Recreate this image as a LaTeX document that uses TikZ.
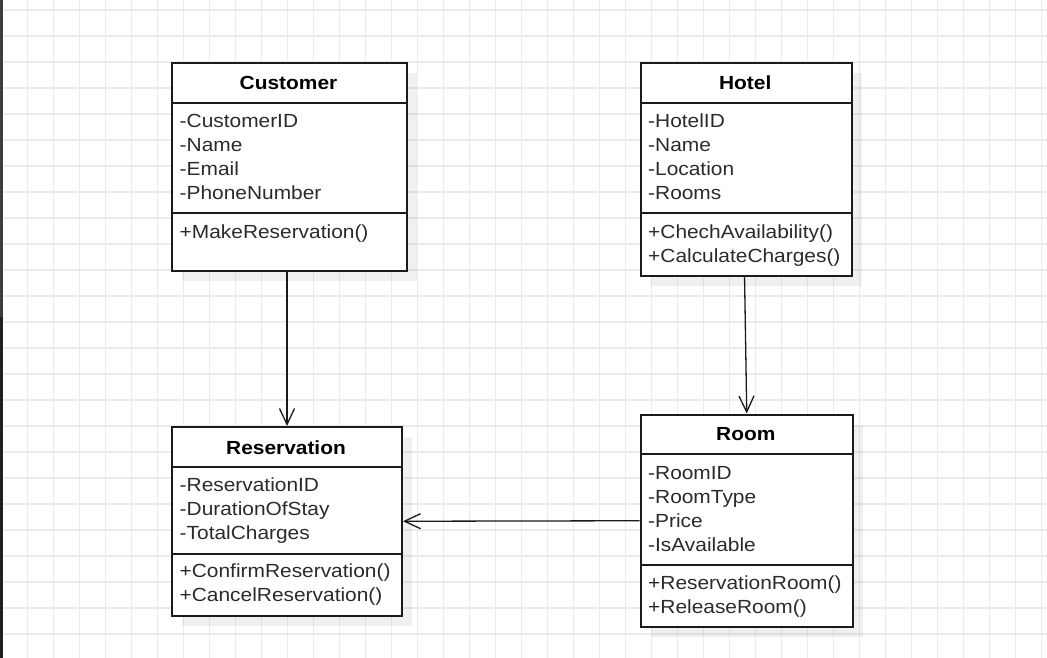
\documentclass[tikz,border=0pt]{standalone}
\usepackage{fontspec}
\setmainfont{Liberation Sans}[FakeStretch=1.1]
\usetikzlibrary{arrows.meta}
\definecolor{gridc}{HTML}{EBEBEB}
\definecolor{inkc}{HTML}{1A1A1A}
\definecolor{textc}{HTML}{2B2B2B}
\definecolor{barTop}{HTML}{3D3D3D}
\definecolor{barBot}{HTML}{1F1F1F}
\begin{document}
\begin{tikzpicture}[x=1pt,y=-1pt,
  gridline/.style={draw=gridc,line width=1.1pt},
  classbox/.style={draw=inkc,line width=2pt,fill=white,anchor=north west,inner sep=0pt},
  boxshadow/.style={fill=black,fill opacity=0.06},
  divider/.style={draw=inkc,line width=2pt},
  title/.style={anchor=base,inner sep=0pt,font=\fontsize{19}{24}\selectfont\bfseries,text=black},
  member/.style={anchor=base west,inner sep=0pt,font=\fontsize{19}{24}\selectfont,text=textc},
  assoc/.style={draw=inkc,line width=1.3pt,-{Straight Barb[length=16pt,width=15pt,line width=1.3pt]}}]
\useasboundingbox (0,0) rectangle (1047,658);
\fill[white] (0,0) rectangle (1047,658);
% background grid
\foreach \k in {0,...,39} \draw[gridline] (27.5+26*\k,0) -- ++(0,658);
\foreach \k in {0,...,24} \draw[gridline] (0,10+26*\k) -- ++(1047,0);
% left edge bar
\fill[barTop] (0,0) rectangle (2.7,317);
\fill[barBot] (0,317) rectangle (2.7,658);

% drop shadows
\fill[boxshadow] (182,73) rectangle (417,281);
\fill[boxshadow] (650.5,73) rectangle (862,286);
\fill[boxshadow] (182,437) rectangle (412,625.5);
\fill[boxshadow] (650.5,424.5) rectangle (863,637);

% Customer
\node[classbox,minimum width=235pt,minimum height=208pt] (cust) at (171,62) {};
\draw[divider] (171,103) -- (406,103);
\draw[divider] (171,213.3) -- (406,213.3);
\node[title] (cust-t) at (288.5,90) {Customer};
\foreach \t [count=\i] in {-CustomerID,-Name,-Email,-PhoneNumber}
  \node[member] (cust-a\i) at (179.5,{127.7+24*(\i-1)}) {\t};
\node[member] (cust-m1) at (179.5,238.3) {+MakeReservation()};

% Hotel
\node[classbox,minimum width=211.5pt,minimum height=213pt] (hotel) at (639.5,62) {};
\draw[divider] (639.5,103) -- (851,103);
\draw[divider] (639.5,213.3) -- (851,213.3);
\node[title] (hotel-t) at (745.2,90) {Hotel};
\foreach \t [count=\i] in {-HotelID,-Name,-Location,-Rooms}
  \node[member] (hotel-a\i) at (648,{127.7+24*(\i-1)}) {\t};
\foreach \t [count=\i] in {+ChechAvailability(),+CalculateCharges()}
  \node[member] (hotel-m\i) at (648,{238.3+24*(\i-1)}) {\t};

% Reservation
\node[classbox,minimum width=230pt,minimum height=188.5pt] (res) at (171,426) {};
\draw[divider] (171,467) -- (401,467);
\draw[divider] (171,553.5) -- (401,553.5);
\node[title] (res-t) at (286,454) {Reservation};
\foreach \t [count=\i] in {-ReservationID,-DurationOfStay,-TotalCharges}
  \node[member] (res-a\i) at (179.5,{491.7+24*(\i-1)}) {\t};
\foreach \t [count=\i] in {+ConfirmReservation(),+CancelReservation()}
  \node[member] (res-m\i) at (179.5,{577.8+24*(\i-1)}) {\t};

% Room
\node[classbox,minimum width=212.5pt,minimum height=212.5pt] (room) at (639.5,413.5) {};
\draw[divider] (639.5,453.5) -- (852,453.5);
\draw[divider] (639.5,564.5) -- (852,564.5);
\node[title] (room-t) at (745.8,440.8) {Room};
\foreach \t [count=\i] in {-RoomID,-RoomType,-Price,-IsAvailable}
  \node[member] (room-a\i) at (648,{479+24*(\i-1)}) {\t};
\foreach \t [count=\i] in {+ReservationRoom(),+ReleaseRoom()}
  \node[member] (room-m\i) at (648,{589.3+24*(\i-1)}) {\t};

% associations
\draw[assoc] (res.north |- cust.south) -- (res.north);
\draw[assoc] ([xshift=-1.7pt]hotel.south) -- (room.north);
\draw[assoc] (room.west) -- (res.east);
\end{tikzpicture}
\end{document}
